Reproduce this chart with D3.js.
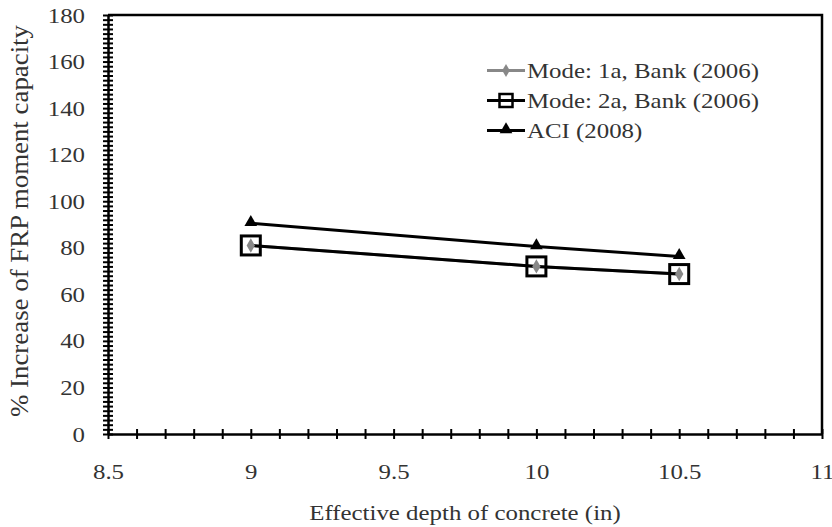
<!DOCTYPE html>
<html lang="en">
<head>
    <meta charset="UTF-8">
    <title>FRP moment capacity</title>
    <script src="https://d3js.org/d3.v7.min.js"></script>
    <style>
        body{ margin:0; background:#fff; }
        text{ font-family:"Liberation Serif","Times New Roman",serif; fill:#333; }
        .axis path, .axis line{ stroke:#000; }
    </style>
</head>
<body>
<svg width="832" height="527"></svg>
<script>
    // data
    const depths = [9, 10, 10.5];
    const mode1a = [81, 72, 68.7];   // Mode: 1a, Bank (2006)
    const mode2a = [81, 72, 68.7];   // Mode: 2a, Bank (2006)
    const aci = [90.5, 80.5, 76.3];  // ACI (2008)
    const xTicks = [8.5, 9, 9.5, 10, 10.5, 11];
    const yTicks = [0, 20, 40, 60, 80, 100, 120, 140, 160, 180];
    const seriesNames = ["Mode: 1a, Bank (2006)", "Mode: 2a, Bank (2006)", "ACI (2008)"];

    const svg = d3.select("svg");
    const plotLeft = 108, plotRight = 822, plotTop = 15, plotBottom = 434;
    const stretch = 1.13;

    let x = d3.scaleLinear().domain([8.5, 11]).range([plotLeft, plotRight]);
    let y = d3.scaleLinear().domain([0, 180]).range([plotBottom, plotTop]);

    // plot frame (top + right)
    svg.append("path")
        .attr("d", `M${plotLeft},${plotTop}H${plotRight}V${plotBottom}`)
        .attr("fill", "none").attr("stroke", "#000").attr("stroke-width", 2.5);

    // minor ticks crossing the axes
    let xMinor = d3.range(0, 26).map(i => 8.5 + i * 0.1);
    let yMinor = d3.range(0, 91).map(i => i * 2);

    let gxm = svg.append("g").attr("class", "axis")
        .attr("transform", `translate(0,${plotBottom})`)
        .call(d3.axisBottom(x).tickValues(xMinor).tickSizeOuter(0).tickFormat(""));
    gxm.select(".domain").attr("stroke-width", 2.5);
    gxm.selectAll(".tick line").attr("y1", -5).attr("y2", 5).attr("stroke-width", 2);

    let gym = svg.append("g").attr("class", "axis")
        .attr("transform", `translate(${plotLeft},0)`)
        .call(d3.axisLeft(y).tickValues(yMinor).tickSizeOuter(0).tickFormat(""));
    gym.select(".domain").attr("stroke-width", 2.5);
    gym.selectAll(".tick line").attr("x1", -5).attr("x2", 5).attr("stroke-width", 2);

    // labelled ticks
    let gx = svg.append("g").attr("class", "axis")
        .attr("transform", `translate(0,${plotBottom})`)
        .call(d3.axisBottom(x).tickValues(xTicks).tickSize(0).tickPadding(29).tickFormat(d3.format("")));
    gx.select(".domain").remove();
    gx.selectAll("text").attr("font-size", 22).attr("font-family", null);

    let gy = svg.append("g").attr("class", "axis")
        .attr("transform", `translate(${plotLeft},0)`)
        .call(d3.axisLeft(y).tickValues(yTicks).tickSize(0).tickPadding(23));
    gy.select(".domain").remove();
    gy.selectAll("text").attr("font-size", 22).attr("font-family", null).attr("dy", "0.32em");

    // axis titles
    svg.append("text")
        .attr("x", (plotLeft + plotRight) / 2).attr("y", 520)
        .attr("text-anchor", "middle").attr("font-size", 22)
        .text("Effective depth of concrete (in)");

    svg.append("text")
        .attr("transform", "translate(28,221) rotate(-90)")
        .attr("text-anchor", "middle").attr("font-size", 25)
        .attr("class", "ylab")
        .text("% Increase of FRP moment capacity");

    // series lines
    let line = d3.line().x((d, i) => x(depths[i])).y(d => y(d));

    svg.append("path").datum(mode1a).attr("d", line)
        .attr("fill", "none").attr("stroke", "#888").attr("stroke-width", 3);
    svg.append("path").datum(mode2a).attr("d", line)
        .attr("fill", "none").attr("stroke", "#000").attr("stroke-width", 3);
    svg.append("path").datum(aci).attr("d", line)
        .attr("fill", "none").attr("stroke", "#000").attr("stroke-width", 3);

    // markers
    svg.append("g").selectAll("path").data(mode1a).join("path")
        .attr("transform", (d, i) => `translate(${x(depths[i])},${y(d)})`)
        .attr("d", d3.symbol(d3.symbolDiamond, 60))
        .attr("fill", "#888");
    svg.append("g").selectAll("rect").data(mode2a).join("rect")
        .attr("x", (d, i) => x(depths[i]) - 9.5).attr("y", d => y(d) - 9.5)
        .attr("width", 19).attr("height", 19)
        .attr("fill", "none").attr("stroke", "#000").attr("stroke-width", 3);
    svg.append("g").selectAll("path").data(aci).join("path")
        .attr("transform", (d, i) => `translate(${x(depths[i])},${y(d) - 1})`)
        .attr("d", d3.symbol(d3.symbolTriangle, 70))
        .attr("fill", "#000");

    // legend
    let legend = svg.append("g").attr("transform", "translate(487,0)");
    let rowY = [70.5, 100.5, 130.5];
    legend.selectAll("text").data(seriesNames).join("text")
        .attr("x", 40).attr("y", (d, i) => rowY[i] + 7.5)
        .attr("font-size", 22).text(d => d);
    legend.selectAll("line").data(seriesNames).join("line")
        .attr("x1", 0).attr("x2", 38)
        .attr("y1", (d, i) => rowY[i]).attr("y2", (d, i) => rowY[i])
        .attr("stroke", (d, i) => i == 0 ? "#888" : "#000").attr("stroke-width", 3);
    legend.append("path").attr("transform", `translate(19,${rowY[0]})`)
        .attr("d", d3.symbol(d3.symbolDiamond, 50)).attr("fill", "#888");
    legend.append("rect").attr("x", 12.5).attr("y", rowY[1] - 6.5).attr("width", 13).attr("height", 13)
        .attr("fill", "none").attr("stroke", "#000").attr("stroke-width", 2.5);
    legend.append("path").attr("transform", `translate(19,${rowY[2] - 1})`)
        .attr("d", d3.symbol(d3.symbolTriangle, 70)).attr("fill", "#000");

    // the original text looks widened a bit horizontally
    svg.selectAll("text").each(function () {
        if (this.classList.contains("ylab")) {
            this.setAttribute("textLength", 392);
        } else {
            this.setAttribute("textLength", this.getComputedTextLength() * stretch);
        }
        this.setAttribute("lengthAdjust", "spacingAndGlyphs");
    });
</script>
</body>
</html>
